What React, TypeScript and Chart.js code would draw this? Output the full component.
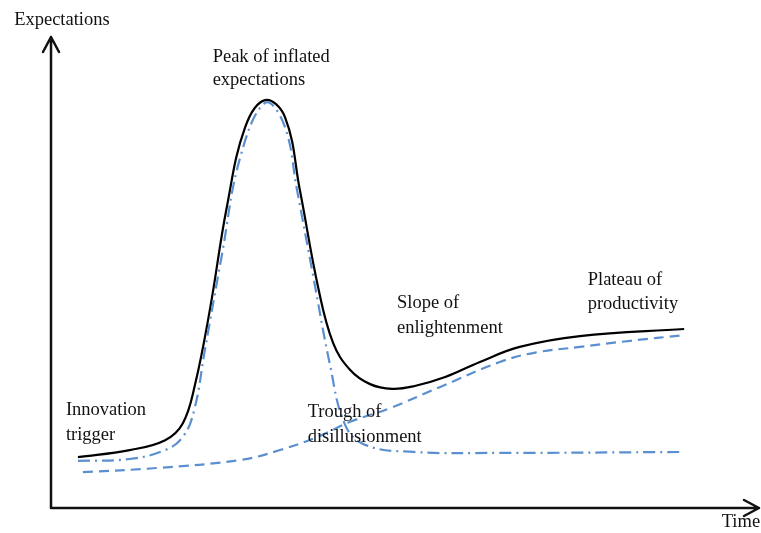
import React, { useEffect, useRef } from "react";
import { Chart, registerables } from "chart.js";

Chart.register(...registerables);

// Time (0-100) and expectations (0-100)
const totalTime = [3.8, 11.1, 16.1, 18.6, 20.3, 22.4, 24.8, 27.4, 30.2, 33.0, 35.1, 37.7, 39.8, 42.2, 45.0, 48.1, 51.3, 55.6, 60.5, 66.1, 74.6, 89.3];
const totalExp = [10.8, 12.3, 14.4, 18.0, 26.1, 42.0, 63.9, 80.9, 86.6, 83.0, 67.5, 46.7, 35.0, 29.3, 26.3, 25.3, 25.9, 27.8, 31.0, 34.2, 36.5, 38.0];

const hypeTime = [3.8, 11.1, 16.1, 18.6, 20.2, 21.7, 24.1, 26.7, 30.2, 32.9, 34.7, 36.95, 39.35, 41.5, 44.3, 51.1, 63.3, 89.3];
const hypeExp = [10.0, 10.4, 12.3, 15.1, 20.8, 33.5, 53.7, 74.5, 86.0, 81.3, 67.5, 49.5, 30.4, 17.6, 13.4, 11.9, 11.7, 11.9];

const maturityTime = [4.5, 15.0, 26.7, 32.3, 37.9, 42.2, 47.8, 54.9, 63.3, 68.3, 74.6, 81.7, 89.3];
const maturityExp = [7.6, 8.5, 10.2, 12.3, 15.3, 18.3, 21.2, 25.7, 31.0, 33.0, 34.2, 35.5, 36.7];

const labelLines = ["Expectations", "Peak of inflated", "expectations", "Innovation", "trigger", "Trough of", "disillusionment", "Slope of", "enlightenment", "Plateau of", "productivity", "Time"];
const labelTime = [-5.2, 22.8, 22.8, 2.1, 2.1, 36.2, 36.2, 48.8, 48.8, 75.7, 75.7, 94.6];
const labelExp = [103.6, 95.8, 90.9, 20.8, 15.5, 20.4, 15.1, 43.5, 38.2, 48.4, 43.3, -3.0];

const BLUE = "#5b8fd0";

const pts = (xs: number[], ys: number[]) => xs.map((x, i) => ({ x, y: ys[i] }));

const overlay = {
  id: "hypeOverlay",
  afterDraw(chart: any) {
    const { ctx, chartArea, scales } = chart;
    const x0 = chartArea.left;
    const y0 = chartArea.bottom;
    ctx.save();
    ctx.strokeStyle = "#111";
    ctx.lineWidth = 2.5;
    ctx.lineCap = "round";
    ctx.lineJoin = "round";
    ctx.setLineDash([]);
    ctx.beginPath();
    ctx.moveTo(x0, y0);
    ctx.lineTo(x0, chartArea.top);
    ctx.moveTo(x0, y0);
    ctx.lineTo(chartArea.right - 1, y0);
    ctx.moveTo(x0 - 8, chartArea.top + 15);
    ctx.lineTo(x0, chartArea.top);
    ctx.lineTo(x0 + 8, chartArea.top + 15);
    ctx.moveTo(chartArea.right - 16, y0 - 8);
    ctx.lineTo(chartArea.right - 1, y0);
    ctx.lineTo(chartArea.right - 16, y0 + 8);
    ctx.stroke();

    ctx.fillStyle = "#111";
    ctx.font = '18.5px "Liberation Serif"';
    ctx.textAlign = "left";
    ctx.textBaseline = "middle";
    labelLines.forEach((t, i) => {
      ctx.fillText(t, scales.x.getPixelForValue(labelTime[i]), scales.y.getPixelForValue(labelExp[i]));
    });
    ctx.restore();
  },
};

export default function App() {
  const ref = useRef<HTMLCanvasElement>(null);
  useEffect(() => {
    document.body.style.margin = "0";
    const chart = new Chart(ref.current!, {
      type: "scatter",
      data: {
        datasets: [
          {
            label: "Maturity",
            data: pts(maturityTime, maturityExp),
            showLine: true,
            borderColor: BLUE,
            borderWidth: 2.2,
            borderDash: [10, 6],
            pointRadius: 0,
            tension: 0.4,
          },
          {
            label: "Hype",
            data: pts(hypeTime, hypeExp),
            showLine: true,
            borderColor: BLUE,
            borderWidth: 2.2,
            borderDash: [12, 5, 2, 5],
            pointRadius: 0,
            tension: 0.4,
          },
          {
            label: "Expectations",
            data: pts(totalTime, totalExp),
            showLine: true,
            borderColor: "#000",
            borderWidth: 2.2,
            pointRadius: 0,
            tension: 0.4,
          },
        ],
      },
      options: {
        responsive: false,
        animation: false,
        layout: { padding: { left: 51, right: 1, top: 37, bottom: 25 } },
        plugins: { legend: { display: false }, tooltip: { enabled: false } },
        scales: {
          x: { type: "linear", min: 0, max: 100, display: false },
          y: { type: "linear", min: 0, max: 100, display: false },
        },
      },
      plugins: [overlay],
    } as any);
    return () => chart.destroy();
  }, []);
  return (
    <canvas
      ref={ref}
      width={761}
      height={533}
      style={{ display: "block", position: "absolute", left: 0, top: 0, background: "#fff" }}
    />
  );
}
